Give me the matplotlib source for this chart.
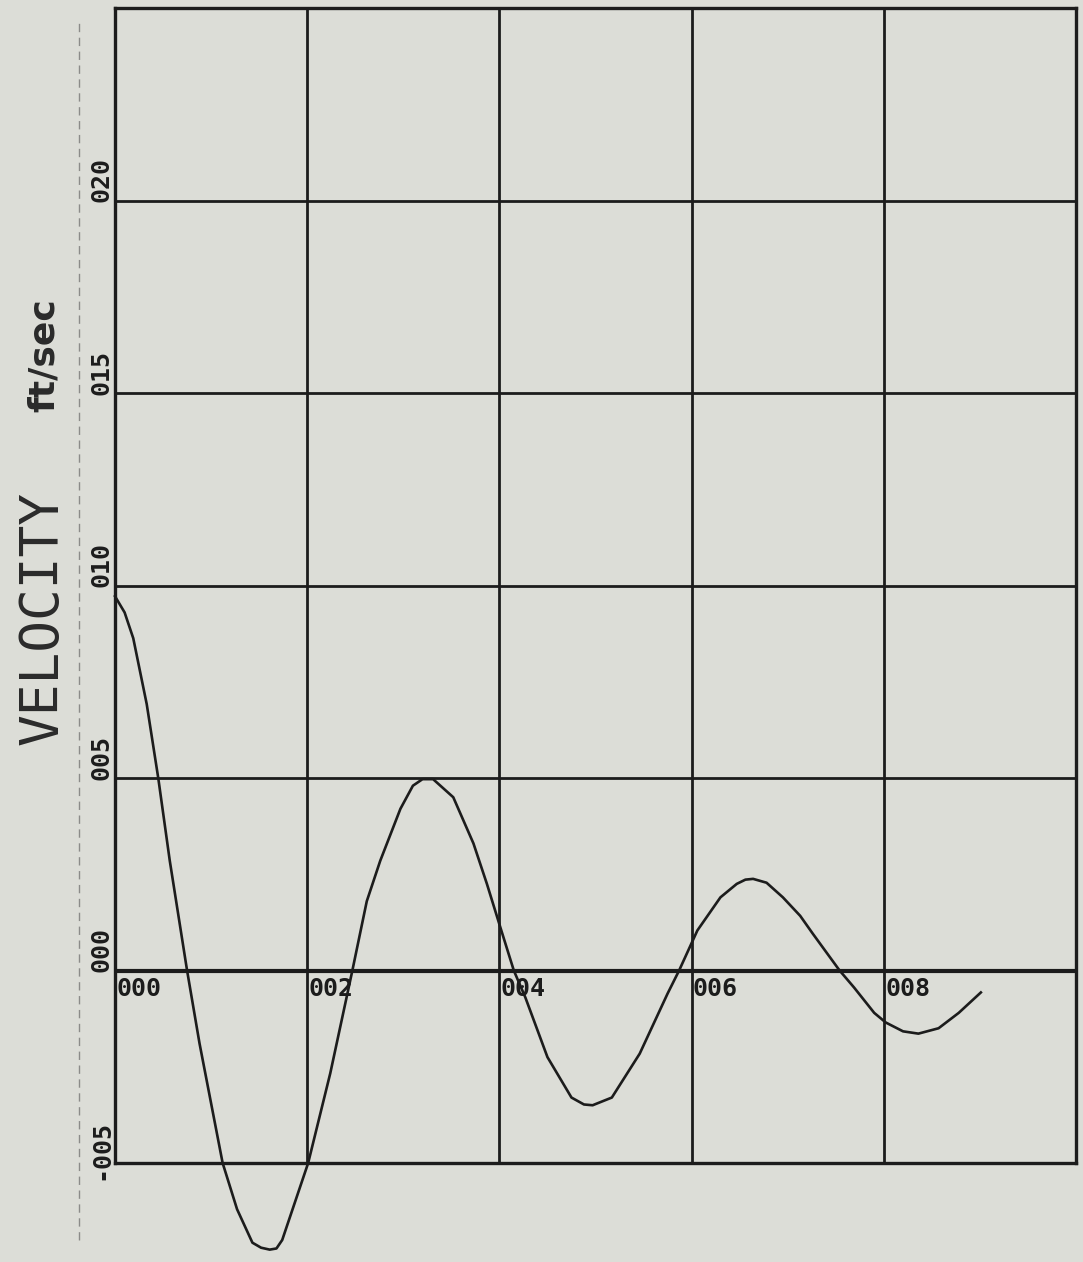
import numpy as np
import matplotlib
matplotlib.use("Agg")
import matplotlib.pyplot as plt
from matplotlib.lines import Line2D
import matplotlib.transforms as mtransforms

# ---- data (time, velocity ft/sec) ----
t = [0.00, 0.10, 0.19, 0.33, 0.45, 0.57, 0.75, 0.88, 1.12, 1.27, 1.43, 1.52,
     1.61, 1.68, 1.74, 2.01, 2.24, 2.47, 2.62, 2.76, 2.97, 3.10, 3.20, 3.31,
     3.52, 3.73, 3.87, 4.00, 4.15, 4.27, 4.50, 4.75, 4.88, 4.97, 5.17, 5.46,
     5.75, 5.87, 6.06, 6.30, 6.47, 6.56, 6.64, 6.78, 6.95, 7.13, 7.26, 7.54,
     7.69, 7.90, 8.02, 8.20, 8.36, 8.57, 8.78, 9.01]
vel = [0.0972, 0.0930, 0.0863, 0.0692, 0.0500, 0.0285, 0.0000, -0.0190,
       -0.0500, -0.0620, -0.0707, -0.0720, -0.0725, -0.0722, -0.0700, -0.0500,
       -0.0267, 0.0000, 0.0180, 0.0285, 0.0420, 0.0480, 0.0497, 0.0497, 0.0450,
       0.0330, 0.0225, 0.0120, 0.0000, -0.0070, -0.0225, -0.0330, -0.0348,
       -0.0350, -0.0330, -0.0216, -0.0060, 0.0000, 0.0104, 0.0190, 0.0225,
       0.0236, 0.0238, 0.0228, 0.0190, 0.0142, 0.0096, 0.0000, -0.0044,
       -0.0110, -0.0135, -0.0158, -0.0164, -0.0150, -0.0110, -0.0057]

x_ticks = [0, 2, 4, 6, 8]
x_labels = ["000", "002", "004", "006", "008"]
y_ticks = [-0.05, 0.00, 0.05, 0.10, 0.15, 0.20]
y_labels = ["-005", "000", "005", "010", "015", "020"]

BG = "#dcddd7"
INK = "#1c1c1c"

fig = plt.figure(figsize=(10.83, 12.62), dpi=100, facecolor=BG)
ax = fig.add_axes([115 / 1083, 99 / 1262, 961 / 1083, 1155 / 1262], facecolor=BG)
ax.set_xlim(0, 10)
ax.set_ylim(-0.05, 0.25)

# grid
for xv in np.arange(2, 10, 2):
    ax.axvline(xv, color=INK, lw=2.0, zorder=1)
for yv in [-0.05, 0.05, 0.10, 0.15, 0.20]:
    ax.axhline(yv, color=INK, lw=2.0, zorder=1)
ax.axhline(0, color=INK, lw=3.0, zorder=1)
for s in ax.spines.values():
    s.set_linewidth(2.4)
    s.set_color(INK)
ax.set_xticks([]); ax.set_yticks([])

# curve (runs below the frame, as on the plotter)
ax.plot(t, vel, color=INK, lw=1.9, clip_on=False, zorder=3)

mono = "DejaVu Sans Mono"
for xv, lab in zip(x_ticks, x_labels):
    ax.annotate(lab, xy=(xv, 0), xytext=(1, -18), textcoords="offset points",
                ha="left", va="baseline", fontsize=18, family=mono,
                fontweight="bold", color=INK)

trans = mtransforms.blended_transform_factory(ax.transAxes, ax.transData)
for yv, lab in zip(y_ticks, y_labels):
    ax.annotate(lab, xy=(0, yv), xycoords=trans, xytext=(-5, 31),
                textcoords="offset points", rotation=90, rotation_mode="anchor",
                ha="right", va="baseline", fontsize=18, family=mono,
                fontweight="bold", color=INK)

fig.text(58 / 1083, 1 - 745 / 1262, "VELOCITY", rotation=90, rotation_mode="anchor",
         ha="left", va="baseline", fontsize=38, family=mono, color="#2a2a2a")
fig.text(54 / 1083, 1 - 412 / 1262, "ft/sec", rotation=90, rotation_mode="anchor",
         ha="left", va="baseline", fontsize=26, fontweight="bold", color="#2a2a2a")

# faint fold line on the scan
fig.add_artist(Line2D([79 / 1083, 79 / 1083], [1 - 1240 / 1262, 1 - 20 / 1262],
                      transform=fig.transFigure, color="#555555", lw=1,
                      ls=(0, (6, 4)), alpha=0.6))

fig.savefig("out.png", dpi=100, facecolor=BG)
